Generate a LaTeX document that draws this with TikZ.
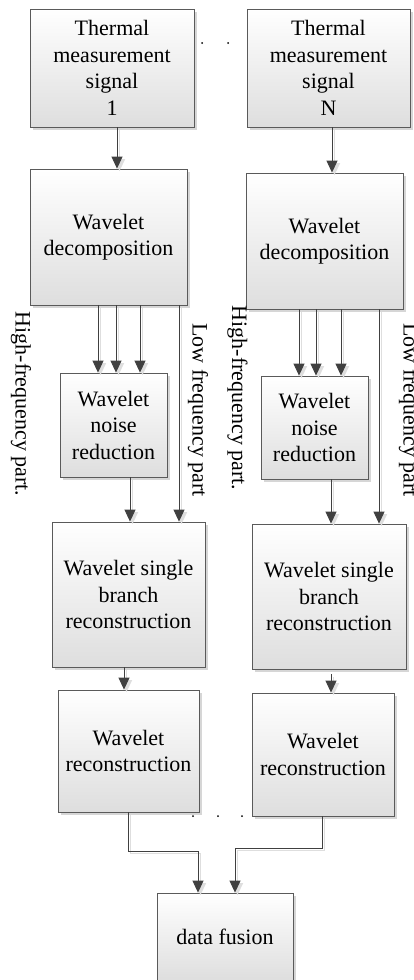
\documentclass[tikz,border=0pt]{standalone}
\usepackage{fontspec}
\setmainfont{Liberation Serif}
\usetikzlibrary{arrows.meta,shadows}
\definecolor{lc}{HTML}{404040}
\definecolor{bc}{HTML}{5A5A5A}
\begin{document}
\begin{tikzpicture}[x=1pt,y=-1pt,
  box/.style={draw=bc, line width=0.8pt, top color=white, bottom color=black!13,
    drop shadow={shadow xshift=3pt, shadow yshift=-3pt, fill=black!16, opacity=1},
    align=center, inner sep=0pt, font=\fontsize{22}{26.5}\selectfont},
  conn/.style={draw=lc, line width=0.9pt, -{Triangle[width=11pt,length=12pt]},
    preaction={draw=black!13, line width=1.4pt, transform canvas={shift={(2.5pt,-2.5pt)}}}},
  lab/.style={rotate=-90, inner sep=0pt, font=\fontsize{22}{26.5}\selectfont},
  dot/.style={circle, fill=black, inner sep=0pt, minimum size=2pt}]
\useasboundingbox (0,0) rectangle (414,980);
\clip (0,0) rectangle (414,980);

% boxes
\node[box, minimum width=164pt, minimum height=118pt] (t1) at (112,68) {Thermal\\measurement\\signal\\1};
\node[box, minimum width=163pt, minimum height=118pt] (tN) at (328.5,68) {Thermal\\measurement\\signal\\N};
\node[box, minimum width=157pt, minimum height=136pt] (d1) at (108.5,237) {Wavelet\\decomposition};
\node[box, minimum width=157pt, minimum height=136pt] (dN) at (324.5,241) {Wavelet\\decomposition};
\node[box, minimum width=107pt, minimum height=104pt] (n1) at (113.5,425) {Wavelet\\noise\\reduction};
\node[box, minimum width=107pt, minimum height=103pt] (nN) at (314.5,427.5) {Wavelet\\noise\\reduction};
\node[box, minimum width=153pt, minimum height=145pt] (s1) at (128.5,594.5) {Wavelet single\\branch\\reconstruction};
\node[box, minimum width=154pt, minimum height=145pt] (sN) at (329,596.5) {Wavelet single\\branch\\reconstruction};
\node[box, minimum width=141pt, minimum height=122pt] (r1) at (128.5,751) {Wavelet\\reconstruction};
\node[box, minimum width=142pt, minimum height=123pt] (rN) at (323,754.5) {Wavelet\\reconstruction};
\node[box, minimum width=136pt, minimum height=88pt] (f) at (225,937) {data fusion};

% column coordinates
\coordinate (xt1) at (117,0);
\coordinate (xtN) at (332,0);
\coordinate (xa1) at (98,0);
\coordinate (xb1) at (116,0);
\coordinate (xc1) at (140,0);
\coordinate (xl1) at (179,0);
\coordinate (xm1) at (130,0);
\coordinate (xaN) at (299,0);
\coordinate (xbN) at (316,0);
\coordinate (xcN) at (341,0);
\coordinate (xlN) at (379,0);
\coordinate (xmN) at (331,0);
\coordinate (xr1) at (124,0);
\coordinate (xrN) at (331,0);
\coordinate (j1) at (128,851);
\coordinate (k1) at (198,851);
\coordinate (j2) at (322,848);
\coordinate (k2) at (235,848);

% connectors
\draw[conn] (t1.south -| xt1) -- (d1.north -| xt1);
\draw[conn] (tN.south -| xtN) -- (dN.north -| xtN);
\draw[conn] (d1.south -| xa1) -- (n1.north -| xa1);
\draw[conn] (d1.south -| xb1) -- (n1.north -| xb1);
\draw[conn] (d1.south -| xc1) -- (n1.north -| xc1);
\draw[conn] (d1.south -| xl1) -- (s1.north -| xl1);
\draw[conn] (n1.south -| xm1) -- (s1.north -| xm1);
\draw[conn] (dN.south -| xaN) -- (nN.north -| xaN);
\draw[conn] (dN.south -| xbN) -- (nN.north -| xbN);
\draw[conn] (dN.south -| xcN) -- (nN.north -| xcN);
\draw[conn] (dN.south -| xlN) -- (sN.north -| xlN);
\draw[conn] (nN.south -| xmN) -- (sN.north -| xmN);
\draw[conn] (s1.south -| xr1) -- (r1.north -| xr1);
\draw[conn, shorten <=5pt] (sN.south -| xrN) -- (rN.north -| xrN);
\draw[conn] (r1.south -| j1) -- (j1) -- (k1) -- (f.north -| k1);
\draw[conn] (rN.south -| j2) -- (j2) -- (k2) -- (f.north -| k2);

% rotated labels
\node[lab] (h1) at (21,404) {High-frequency part.};
\node[lab] (l1) at (198,410) {Low frequency part};
\node[lab] (hN) at (237.5,398) {High-frequency part.};
\node[lab] (lN) at (409,410) {Low frequency part};

% dots
\node[dot] (p1) at (202,43) {};
\node[dot] (p2) at (228,43) {};
\node[dot] (q1) at (193,816) {};
\node[dot] (q2) at (218,816) {};
\node[dot] (q3) at (242,816) {};
\end{tikzpicture}
\end{document}
